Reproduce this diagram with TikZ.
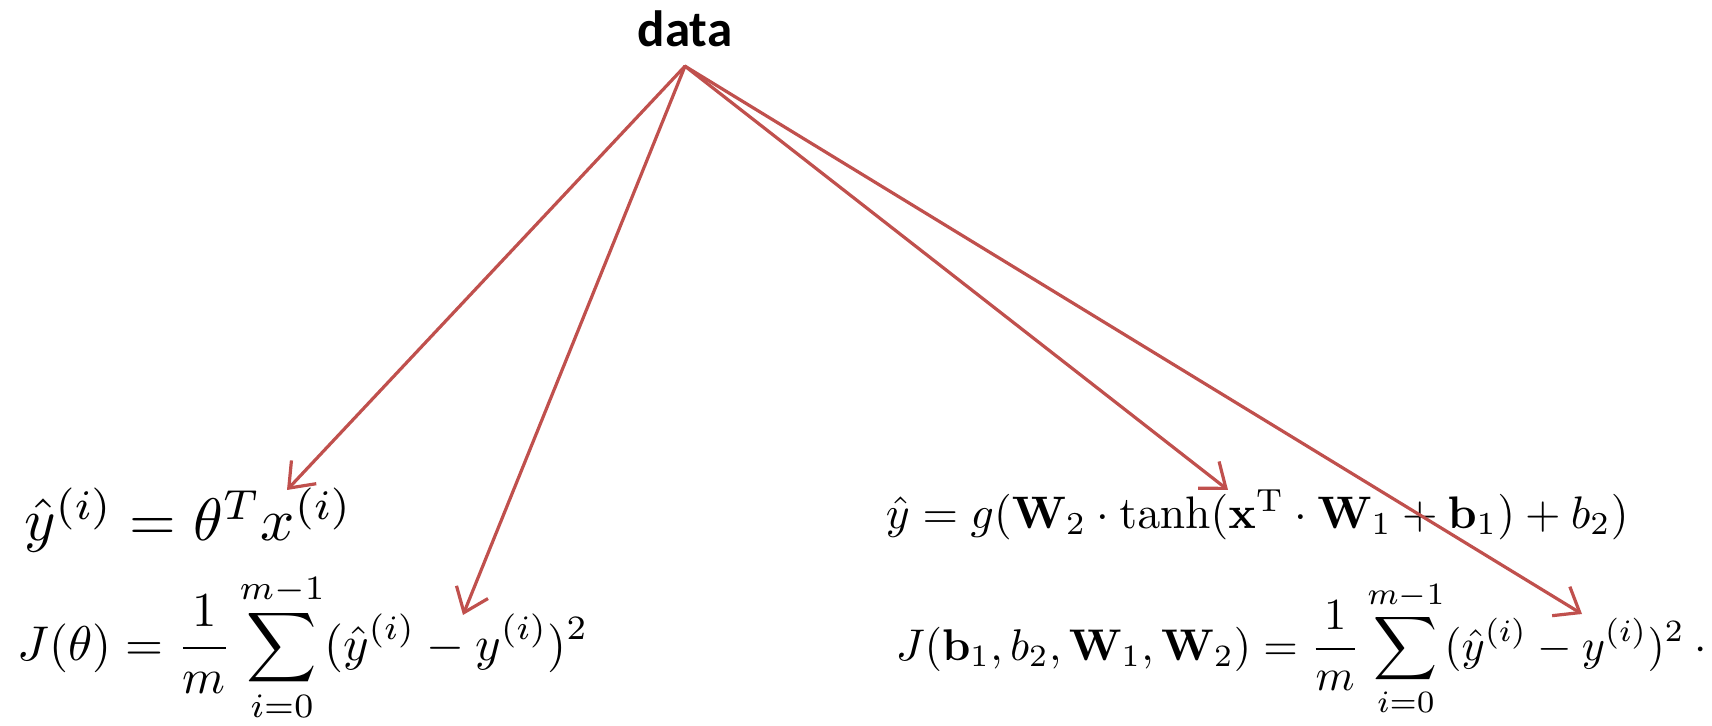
\documentclass[tikz,border=0pt]{standalone}
\usepackage[no-math]{fontspec}
\newfontfamily\labelfont{Carlito}
\usetikzlibrary{arrows.meta}
\definecolor{linkred}{RGB}{192,80,77}

\begin{document}
\begin{tikzpicture}[x=0.25pt,y=-0.25pt,line join=round,line cap=round,
		link/.style={draw=linkred,line width=0.8pt,-{Straight Barb[length=5.5pt,width=8.5pt,line width=0.8pt]}},
		eq/.style={inner sep=0pt,anchor=base west,transform shape}]
			\useasboundingbox (0,0) rectangle (1712,726);
			
			\node[inner sep=4.5pt,anchor=base,font=\labelfont\bfseries\fontsize{12.75}{15}\selectfont] (data) at (685,47) {data};
			
			% linear regression
			\node[eq,scale=1.5] (linfit) at (23,541)
			{$\hat{y}^{(i)} = \theta^{T} x^{(i)}$};
			\node[eq,scale=1.22] (lincost) at (17,660)
			{$\displaystyle J(\theta) = \frac{1}{m}\sum_{i=0}^{m-1}(\hat{y}^{(i)} - y^{(i)})^2$};
			
			% neural net
			\node[eq,scale=1.14] (nnfit) at (885,528)
			{$\hat{y} = g(\mathbf{W}_2 \cdot \tanh(\mathbf{x}^{\mathrm{T}} \cdot \mathbf{W}_1 + \mathbf{b}_1) + b_2)$};
			\node[eq,scale=1.11] (nncost) at (895,660)
			{$\displaystyle J(\mathbf{b}_1, b_2, \mathbf{W}_1, \mathbf{W}_2) = \frac{1}{m}\sum_{i=0}^{m-1}(\hat{y}^{(i)} - y^{(i)})^2 \cdot {}$};
			
			\path
			(287,490) coordinate (tipA)
			(463,615) coordinate (tipB)
			(1228,490) coordinate (tipC)
			(1582,614) coordinate (tipD);
			
			\foreach \t in {tipA,tipB,tipC,tipD} {
				\draw[link] (data.south) -- (\t);
			}
			
		\end{tikzpicture}
\end{document}
